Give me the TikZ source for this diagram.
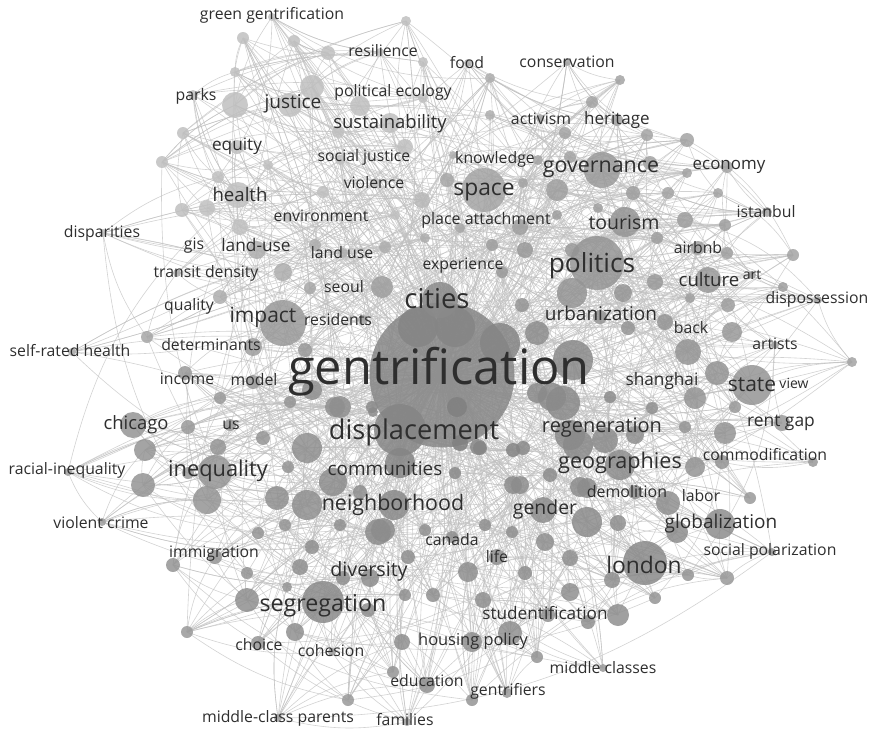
\documentclass[tikz,border=0pt]{standalone}
\usepackage{fontspec}
\setmainfont{Open Sans}
\usepackage{tikz}
\usetikzlibrary{positioning}
\pgfdeclarelayer{bg}
\pgfsetlayers{bg,main}
\tikzset{
    kwdot/.style = {circle, inner sep=0pt, draw=none, fill opacity=0.85},
    kwlabel/.style = {inner sep=0pt, text=black!82, align=center},
    kwlink/.style = {draw=black!25, line width=0.6pt, draw opacity=0.7},
}

\begin{document}
\begin{tikzpicture}[x=1pt, y=-1pt]
\useasboundingbox (0,0) rectangle (871,731);
% main keyword
\node[kwdot, fill=black!47, minimum size=145pt] (gent) at (442,375) {};
% all other keywords, grouped by region
\foreach \x/\y/\d/\c [count=\i] in {
 272/17/8/25, 243/38/12/25, 294/41/12/25, 328/53/14/25, 380/52/8/25, 406/21/10/25, 423/62/10/25,
 235/72/10/25, 312/87/24/25, 235/105/26/25, 290/105/24/25, 360/106/20/25, 423/98/10/25, 193/95/10/25,
 183/133/12/25, 338/132/12/25, 390/123/20/25, 405/147/16/25, 162/162/12/25, 237/147/14/25, 268/165/10/25,
 218/177/12/25, 238/195/26/25, 182/210/14/25, 207/208/16/25, 240/227/16/25, 323/192/12/25, 375/183/10/25,
 422/200/16/28, 287/218/10/25, 395/215/10/25, 103/233/8/25, 340/160/10/25,
 257/250/18/32, 315/245/12/32, 343/253/10/32, 385/247/12/32, 425/238/10/32, 177/273/8/32, 283/272/18/32,
 310/288/12/35, 382/287/22/38, 220/297/14/32, 147/337/12/35, 253/347/18/38, 72/352/8/32, 363/320/10/38,
 305/350/14/40, 283/323/46/40,
 567/62/8/36, 468/63/8/32, 490/78/10/32, 620/80/10/36, 592/102/12/36, 490/115/10/32, 540/118/8/36,
 565/133/12/36, 617/120/12/36, 647/135/12/36, 687/140/14/36, 570/157/12/36, 453/155/8/32, 538/160/10/36,
 447/180/14/35, 523/183/10/36, 650/163/14/36, 727/167/12/36, 687/173/10/36, 557/190/22/38, 633/193/14/38,
 668/193/12/36, 718/193/10/36, 598/208/10/38, 557/215/10/38, 520/227/16/38, 460/228/10/35, 685/220/16/38,
 725/225/12/38, 767/212/10/36, 492/245/12/38, 525/250/16/40, 572/250/14/40, 657/238/12/38, 727/253/12/38,
 793/255/12/36, 698/248/14/38, 502/272/12/40, 655/282/16/40, 752/275/8/38, 783/287/10/38, 818/300/8/36,
 690/298/10/38, 728/305/14/38, 522/305/14/42, 572/293/30/42, 623/293/18/42, 600/317/14/42, 665/322/16/42,
 628/328/14/42, 688/352/26/42, 732/332/20/40, 775/345/8/38, 852/362/10/36, 602/170/36/40, 625/222/30/42,
 708/280/26/40, 597/263/54/42, 484/190/44/36, 537/333/24/45,
 752/385/40/42, 717/373/24/42, 695/398/22/42, 735/407/12/40, 782/423/16/40, 725/433/22/42, 685/427/12/42,
 635/435/18/44, 605/440/26/45, 578/445/30/46, 620/465/30/45, 695/467/20/42, 722/462/14/42, 813/462/10/40,
 750/498/12/40, 668/503/24/44, 635/492/14/44, 587/488/20/45, 552/397/28/46, 610/397/12/45, 652/408/12/44,
 573/360/40/46, 563/403/34/46, 537/393/20/46, 570/435/30/46,
 587/522/30/45, 618/523/16/44, 720/524/30/45, 677/532/22/45, 772/552/8/40, 645/563/44/46, 688/575/12/42,
 727/578/14/40, 655/598/12/42, 612/580/16/44, 618/615/22/44, 588/622/14/44, 570/592/18/44, 570/558/16/44,
 545/542/18/44, 543/510/26/45, 512/532/12/44, 485/525/12/44, 497/557/16/44, 468/572/20/44, 525/573/14/44,
 483/600/16/44, 548/615/14/44, 510/633/24/44, 472/642/20/44, 537/657/12/42, 603/668/8/40, 507/693/10/40,
 472/700/12/42, 513/485/18/45, 550/475/14/45, 523/448/14/46, 478/447/16/46, 455/473/12/46, 452/537/12/44,
 425/530/12/44, 408/557/14/44, 383/530/24/45, 433/595/14/44, 520/485/18/45, 580/487/20/45,
 185/373/14/40, 253/382/14/40, 220/398/12/40, 290/402/12/42, 340/407/22/44, 373/412/10/44, 133/425/26/42,
 188/427/14/40, 230/425/12/40, 263/438/14/42, 307/448/30/44, 218/447/16/42, 145/450/22/42, 68/472/8/38,
 143/485/24/42, 215/472/34/42, 188/473/12/40, 288/467/12/42, 333/482/28/45, 207/500/28/42, 277/498/24/44,
 307/505/30/44, 360/492/14/44, 102/522/8/38, 258/533/12/42, 285/525/12/42, 340/525/12/44, 378/532/26/45,
 312/547/14/44, 215/557/14/42, 173/565/14/42, 247/573/12/42, 300/567/16/44, 343/578/14/44, 370/578/18/45,
 405/595/12/44, 287/587/10/42, 247/600/24/44, 323/602/42/46, 368/610/14/44, 187/632/12/40, 295/632/18/44,
 258/643/14/42, 332/652/8/40, 402/642/16/44, 393/672/12/42, 427/685/16/44, 348/700/12/40, 278/718/8/38,
 407/722/8/38, 394/505/30/46, 400/430/52/48,
 418/327/40/48, 455/327/40/48, 500/343/40/48, 440/300/36/46, 312/390/20/44, 335/407/20/44, 372/407/12/46,
 457/407/20/50, 460/443/16/50, 480/448/14/48, 513/450/14/48, 400/463/30/48
} {
  \node[kwdot, fill=black!\c, minimum size=\d pt] (v\i) at (\x,\y) {};
  \xdef\nv{\i}
}
% links
\pgfmathsetseed{11}
\begin{pgfonlayer}{bg}
\foreach \i in {1,...,\nv} {
  \draw[kwlink] (v\i.center) to[bend left=14] (gent.center);
  \foreach \k in {1,...,4} {
    \pgfmathtruncatemacro\j{mod(\i+random(1,12)-1,\nv)+1}
    \draw[kwlink] (v\i.center) to[bend right=12] (v\j.center);
  }
  \foreach \k in {1,2} {
    \pgfmathtruncatemacro\j{mod(\i+random(13,\nv-13)-1,\nv)+1}
    \draw[kwlink] (v\i.center) to[bend left=18] (v\j.center);
  }
}
\end{pgfonlayer}
% labels
\foreach \t/\x/\y/\s [count=\k] in {
 green gentrification/272/15/15.8, resilience/383/51/15.8, food/467/63/15.8, conservation/567/62/15.8,
 parks/196/96/15.8, justice/293/104/19, political ecology/393/92/15.8, sustainability/390/124/18.5,
 activism/541/119/15.8, heritage/617/120/17, equity/237/146/17.2, social justice/364/157/15.8,
 knowledge/495/159/15.8, governance/601/169/21.4, economy/729/167/16.9, violence/374/183/15.8,
 space/484/192/22.8, health/240/195/18.6, environment/321/216/15.8, place attachment/486/220/16,
 tourism/624/222/19.5, istanbul/766/212/15.8, disparities/102/233/15.8, gis/194/246/15.8,
 land-use/256/245/17.3, land use/342/253/15.8, airbnb/698/248/15.8, experience/463/266/15.8,
 politics/592/266/26.3, transit density/206/273/15.8, seoul/344/287/15.8, culture/709/280/18.6,
 art/752/275/14, dispossession/817/299/15.8, cities/437/299/27.4, quality/189/306/15.8,
 impact/263/317/21, residents/338/320/15.8, urbanization/601/313/19, back/691/328/15.8,
 artists/775/344/15.8, self-rated health/70/351/15.8, determinants/211/345/15.8,
 gentrification/439/372/48.8, income/187/379/15.8, model/254/380/15.8, shanghai/662/381/17.2,
 state/752/385/21, view/794/383/14, chicago/136/425/18.4, us/231/425/15.8, displacement/414/432/27.2,
 regeneration/602/428/20, rent gap/781/423/17.4, racial-inequality/67/470/15.8, inequality/218/471/21.8,
 communities/385/469/18.9, geographies/620/463/21.6, commodification/765/455/15.8, demolition/627/492/15.9,
 labor/701/496/15.8, violent crime/101/523/15.8, neighborhood/393/505/21.4, gender/545/509/19.4,
 globalization/721/524/19, canada/452/540/15.8, immigration/214/554/15.8, life/497/557/15.8,
 social polarization/770/551/15.8, diversity/369/571/19.7, london/644/565/22.8, segregation/323/606/23.2,
 studentification/545/613/17.2, choice/259/645/15.8, cohesion/331/651/15.8, housing policy/473/641/16.4,
 middle classes/603/668/15.8, education/427/681/15.8, gentrifiers/508/691/15.8,
 middle-class parents/278/718/15.8, families/405/720/15.8
} {
  \node[kwlabel, font=\fontsize{\s}{\s}\selectfont] (lab\k) at (\x,\y) {\t};
}
\end{tikzpicture}
\end{document}
